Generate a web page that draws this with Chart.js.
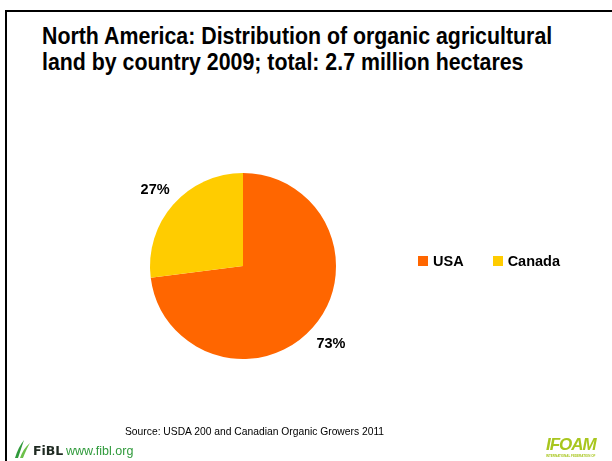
<!DOCTYPE html>
<html>
<head>
<meta charset="utf-8">
<script src="https://cdn.jsdelivr.net/npm/chart.js@4"></script>
<style>
  body { margin: 0; background: #fff; font-family: "Liberation Sans", Arial, sans-serif; }
  #slide { position: relative; width: 612px; height: 461px; overflow: hidden; }
  #frame { position: absolute; left: 5px; top: 10px; width: 620px; height: 470px;
           border-left: 2px solid #000; border-top: 2px solid #000; }
  #title { position: absolute; left: 42px; top: 24px; font-size: 23.5px; font-weight: bold;
           line-height: 25.5px; color: #000; white-space: nowrap;
           transform: scaleX(0.908); transform-origin: 0 0; }
  #chart { position: absolute; left: 0; top: 0; }
  #legend { position: absolute; left: 418px; top: 253px; font-size: 14.5px; font-weight: bold; white-space: nowrap; }
  #legend span.item { display: inline-block; margin-right: 29px; }
  #legend span.box { display: inline-block; width: 10px; height: 10px; margin-right: 5px; }
  #source { position: absolute; left: 125px; top: 426px; font-size: 10.3px; color: #000; white-space: nowrap; }
  #fibl { position: absolute; left: 14px; top: 439px; height: 20px; }
  #fibl .name { position: absolute; left: 19px; top: 4px; font-family: "DejaVu Sans", sans-serif;
                font-weight: bold; font-size: 12.5px; color: #1f2a22; }
  #fibl .url { position: absolute; left: 52px; top: 5px; font-size: 12.5px; color: #2f9a3b; white-space: nowrap; }
  #ifoam { position: absolute; left: 546px; top: 435px; font-size: 17px; font-weight: bold;
           font-style: italic; color: #a8c61e; letter-spacing: -1px; }
  #ifoam small { position: absolute; left: 0; top: 19px; font-size: 3px; font-style: normal;
                 letter-spacing: 0; white-space: nowrap; }
</style>
</head>
<body>
<div id="slide">
  <div id="frame"></div>
  <div id="title">North America: Distribution of organic agricultural<br>land by country 2009; total: 2.7 million hectares</div>
  <canvas id="chart" width="612" height="461"></canvas>
  <div id="legend"></div>
  <div id="source">Source: USDA 200 and Canadian Organic Growers 2011</div>
  <div id="fibl">
    <svg width="18" height="20" viewBox="0 0 18 20" style="position:absolute;left:0;top:0">
      <path d="M1 19 C3 12 6 6 10 1 C8 7 6 13 4 19 Z" fill="#2f9a3b"/>
      <path d="M6 19 C8 13 11 8 16 4 C13 9 11 14 9 19 Z" fill="#6cc04a"/>
    </svg>
    <span class="name">FiBL</span>
    <span class="url">www.fibl.org</span>
  </div>
  <div id="ifoam">IFOAM<small>INTERNATIONAL FEDERATION OF</small></div>
</div>
<script>
const countries = ['USA', 'Canada'];
const shares = [73, 27];
const colors = ['#FF6600', '#FFCC00'];

// percentage labels outside the slices
const outsideLabels = {
  id: 'outsideLabels',
  afterDatasetsDraw(chart) {
    const ctx = chart.ctx;
    const meta = chart.getDatasetMeta(0);
    ctx.save();
    ctx.font = 'bold 14.5px "Liberation Sans", Arial, sans-serif';
    ctx.fillStyle = '#000';
    ctx.textAlign = 'center';
    ctx.textBaseline = 'middle';
    meta.data.forEach(function(arc, i) {
      const mid = (arc.startAngle + arc.endAngle) / 2;
      const r = arc.outerRadius * 1.26;
      ctx.fillText(shares[i] + '%', arc.x + Math.cos(mid) * r, arc.y + Math.sin(mid) * r + 1);
    });
    ctx.restore();
  }
};

new Chart(document.getElementById('chart'), {
  type: 'pie',
  data: {
    labels: countries,
    datasets: [{
      data: shares,
      backgroundColor: colors,
      borderWidth: 0
    }]
  },
  options: {
    responsive: false,
    animation: false,
    layout: { padding: { left: 150, right: 276, top: 173, bottom: 102 } },
    plugins: {
      legend: { display: false },
      tooltip: { enabled: false }
    }
  },
  plugins: [outsideLabels]
});

const legend = document.getElementById('legend');
countries.forEach(function(name, i) {
  legend.innerHTML += '<span class="item"><span class="box" style="background:' + colors[i] + '"></span>' + name + '</span>';
});
</script>
</body>
</html>
